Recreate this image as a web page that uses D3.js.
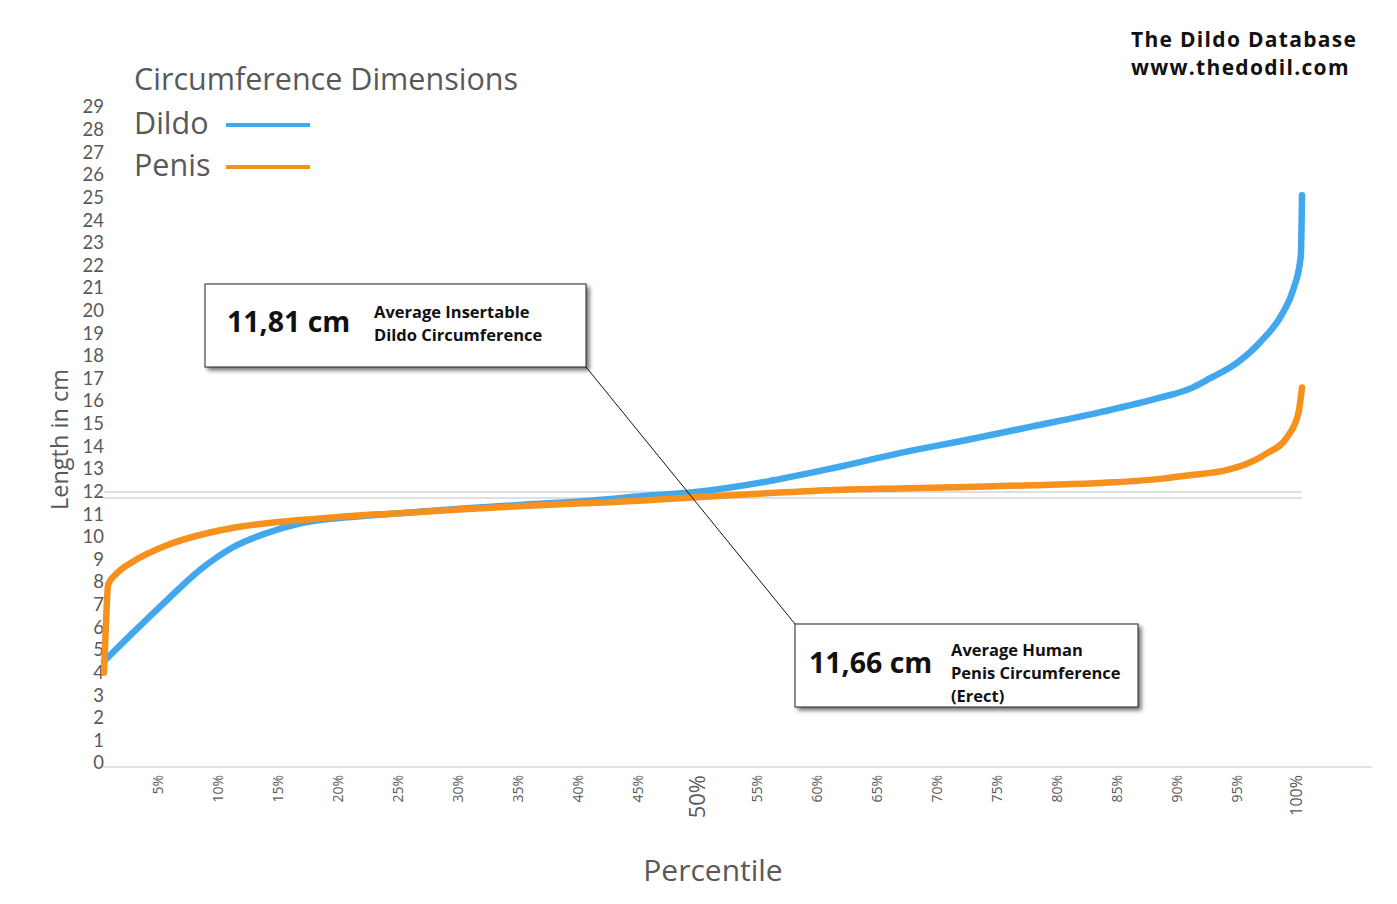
<!DOCTYPE html>
<html>
<head>
<meta charset="utf-8">
<script src="https://cdn.jsdelivr.net/npm/d3@7"></script>
<style>
  body { margin: 0; background: #fff; }
  svg { display: block; }
</style>
</head>
<body>
<div id="app"></div>
<script>
// circumference percentile curves, dildo vs penis

const dildoPct = [0, 2.4, 5.26, 8, 10.8, 13.6, 16.4, 20, 25, 30, 35, 40, 45, 49.75, 55.3, 60.9, 66.4, 72, 77.5, 83.1, 88.15, 90.65, 92.3, 94.6, 96.5, 98.4, 99.25, 99.9, 100];
const dildoCm  = [4.5, 5.75, 7.2, 8.53, 9.55, 10.17, 10.6, 10.85, 11.05, 11.25, 11.42, 11.57, 11.8, 12.0, 12.44, 13.04, 13.7, 14.28, 14.88, 15.5, 16.15, 16.55, 17.0, 17.7, 18.6, 19.9, 20.9, 22.4, 25.1];

const penisPct = [0, 0.15, 0.35, 1.1, 2.4, 5.3, 8, 10.8, 13.6, 16.4, 20, 25, 30, 35, 40, 45, 49.75, 55.3, 60.9, 66.4, 72, 77.5, 83.1, 88.15, 90.9, 93.7, 95.5, 97.1, 98.75, 99.7, 100];
const penisCm  = [4.0, 6.0, 7.9, 8.4, 8.9, 9.64, 10.08, 10.4, 10.6, 10.74, 10.9, 11.05, 11.22, 11.36, 11.48, 11.6, 11.76, 11.92, 12.07, 12.14, 12.2, 12.28, 12.38, 12.56, 12.74, 12.95, 13.25, 13.7, 14.4, 15.47, 16.6];

const yTicks = d3.range(0, 30);
const xTicks = [5, 10, 15, 20, 25, 30, 35, 40, 45, 50, 55, 60, 65, 70, 75, 80, 85, 90, 95, 100];
const refLines = [11.98, 11.72];

const dildoData = dildoPct.map((p, i) => ({ p: p, v: dildoCm[i] }));
const penisData = penisPct.map((p, i) => ({ p: p, v: penisCm[i] }));

const width = 1397;
const height = 904;
const gray = "#595959";
const blue = "#42a8ee";
const orange = "#f6911e";
const font = "'Open Sans', sans-serif";

const svg = d3.select("#app")
  .append("svg")
  .attr("width", width)
  .attr("height", height);

const defs = svg.append("defs");
const shadow = defs.append("filter")
  .attr("id", "shadow")
  .attr("x", "-10%").attr("y", "-20%")
  .attr("width", "130%").attr("height", "150%");
shadow.append("feDropShadow")
  .attr("dx", 3).attr("dy", 3)
  .attr("stdDeviation", 2)
  .attr("flood-color", "#000")
  .attr("flood-opacity", 0.55);

// scales
const xScale = d3.scaleLinear().domain([0, 100]).range([104, 1302]);
const yScale = d3.scaleLinear().domain([0, 29]).range([763, 107]);

// baseline
svg.append("line")
  .attr("x1", xScale(0) - 1).attr("x2", 1372)
  .attr("y1", yScale(0) + 4).attr("y2", yScale(0) + 4)
  .attr("stroke", "#d9d9d9").attr("stroke-width", 1.5);

// reference lines near the medians
svg.append("g")
  .selectAll("line")
  .data(refLines)
  .join("line")
  .attr("x1", xScale(0))
  .attr("x2", xScale(100))
  .attr("y1", (d) => yScale(d))
  .attr("y2", (d) => yScale(d))
  .attr("stroke", "#d4d4d4")
  .attr("stroke-width", 1.5);

// y axis
const yAxis = svg.append("g")
  .attr("transform", `translate(${xScale(0)},0)`)
  .call(d3.axisLeft(yScale).tickValues(yTicks).tickSize(0).tickPadding(0).tickFormat(d3.format("d")));
yAxis.select(".domain").remove();
yAxis.selectAll("text")
  .attr("fill", gray)
  .style("font-family", "Lato, sans-serif")
  .style("font-size", "18.5px");

// x axis labels (rotated)
const xAxis = svg.append("g")
  .attr("transform", `translate(0,${yScale(0) + 12})`)
  .call(d3.axisBottom(xScale).tickValues(xTicks).tickSize(0).tickFormat((d) => d + "%"));
xAxis.select(".domain").remove();
xAxis.selectAll("text")
  .attr("fill", gray)
  .attr("transform", "rotate(-90)")
  .attr("text-anchor", "end")
  .attr("x", 0)
  .attr("y", -6)
  .attr("dy", "0.35em")
  .style("font-family", font)
  .style("font-size", (d) => d === 50 ? "22px" : d === 100 ? "16px" : "14px");

// axis titles
svg.append("text")
  .attr("x", (xScale(0) + xScale(100)) / 2 + 10)
  .attr("y", 881)
  .attr("text-anchor", "middle")
  .attr("fill", gray)
  .style("font-family", font)
  .style("font-size", "30px")
  .text("Percentile");

svg.append("text")
  .attr("transform", `translate(68,${yScale(14.3)}) rotate(-90)`)
  .attr("text-anchor", "middle")
  .attr("fill", gray)
  .style("font-family", font)
  .style("font-size", "23.5px")
  .text("Length in cm");

// curves
const line = d3.line()
  .x((d) => xScale(d.p))
  .y((d) => yScale(d.v))
  .curve(d3.curveMonotoneX);

const series = [
  { name: "Dildo", data: dildoData, color: blue },
  { name: "Penis", data: penisData, color: orange }
];

svg.append("g")
  .selectAll("path")
  .data(series)
  .join("path")
  .attr("d", (d) => line(d.data))
  .attr("fill", "none")
  .attr("stroke", (d) => d.color)
  .attr("stroke-width", 6.5)
  .attr("stroke-linecap", "round")
  .attr("stroke-linejoin", "round");

// legend
const legend = svg.append("g");
legend.append("text")
  .attr("x", 134).attr("y", 90)
  .attr("fill", gray)
  .style("font-family", font)
  .style("font-size", "30.5px")
  .text("Circumference Dimensions");

const items = legend.selectAll("g.item")
  .data(series)
  .join("g")
  .attr("class", "item")
  .attr("transform", (d, i) => `translate(134,${123 + i * 42})`);
items.append("text")
  .attr("dy", "0.35em")
  .attr("fill", gray)
  .style("font-family", font)
  .style("font-size", "30.5px")
  .text((d) => d.name);
items.append("line")
  .attr("x1", 92).attr("x2", 176)
  .attr("y1", 2).attr("y2", 2)
  .attr("stroke", (d) => d.color)
  .attr("stroke-width", 4);

// branding
svg.append("g")
  .selectAll("text")
  .data(["The Dildo Database", "www.thedodil.com"])
  .join("text")
  .attr("x", 1131)
  .attr("y", (d, i) => 47 + i * 28)
  .attr("fill", "#111")
  .style("font-family", font)
  .style("font-weight", 700)
  .style("font-size", "21px")
  .style("letter-spacing", "1.3px")
  .text((d) => d);

// annotation boxes
const notes = [
  { x: 205, y: 284, w: 381, h: 83, value: "11,81 cm", lines: ["Average Insertable", "Dildo Circumference"], tx: 169, ty: 28 },
  { x: 795, y: 624, w: 343, h: 83, value: "11,66 cm", lines: ["Average Human", "Penis Circumference", "(Erect)"], tx: 156, ty: 26 }
];

// connector from first box corner to second box corner
svg.append("line")
  .attr("x1", notes[0].x + notes[0].w)
  .attr("y1", notes[0].y + notes[0].h)
  .attr("x2", notes[1].x)
  .attr("y2", notes[1].y)
  .attr("stroke", "#111")
  .attr("stroke-width", 1);

const note = svg.append("g")
  .selectAll("g")
  .data(notes)
  .join("g")
  .attr("transform", (d) => `translate(${d.x},${d.y})`);

note.append("rect")
  .attr("width", (d) => d.w)
  .attr("height", (d) => d.h)
  .attr("fill", "#fff")
  .attr("stroke", "#222")
  .attr("stroke-width", 1)
  .attr("filter", "url(#shadow)");

note.append("text")
  .attr("x", (d, i) => i === 0 ? 22 : 14)
  .attr("y", (d, i) => i === 0 ? 48 : 49)
  .attr("fill", "#111")
  .style("font-family", font)
  .style("font-weight", 700)
  .style("font-size", "28.5px")
  .text((d) => d.value);

note.each(function (d) {
  d3.select(this).append("g")
    .selectAll("text")
    .data(d.lines)
    .join("text")
    .attr("x", d.tx)
    .attr("y", (t, i) => d.ty + 6 + i * 23)
    .attr("fill", "#111")
    .style("font-family", font)
    .style("font-weight", 700)
    .style("font-size", "16.5px")
    .text((t) => t);
});
</script>
</body>
</html>
